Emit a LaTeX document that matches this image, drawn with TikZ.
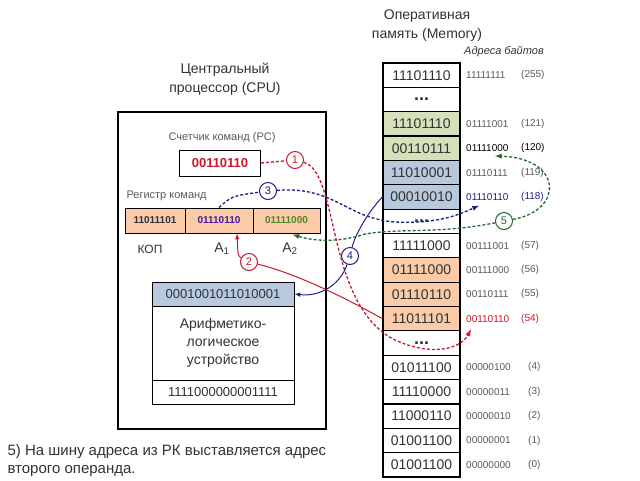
\documentclass[tikz,border=0pt]{standalone}
\usepackage{fontspec}
\setmainfont{Liberation Sans}
\definecolor{cpured}{RGB}{200,25,45}
\definecolor{cpublue}{RGB}{30,30,135}
\definecolor{cpugreen}{RGB}{35,105,45}
\definecolor{peach}{RGB}{250,203,168}
\definecolor{olive}{RGB}{214,224,186}
\definecolor{steel}{RGB}{184,201,222}
\definecolor{addr}{RGB}{90,90,90}
\definecolor{txt}{RGB}{50,50,50}
\newcommand\mdots{\fontsize{18}{18}\selectfont\textbf{...}}
\newcommand\fs[1]{\fontsize{#1}{#1}\selectfont}
\tikzset{
cell/.style={draw,line width=1.2pt,minimum width=77pt,minimum height=24.35pt,inner sep=0pt,font=\fs{14}},
reg/.style={draw,line width=1pt,fill=peach,minimum height=25pt,inner sep=0pt,font=\fs{10}\bfseries},
adr/.style={anchor=west,inner sep=1pt,font=\fs{10}},
num/.style={circle,draw=#1,text=#1,fill=white,line width=1pt,minimum size=17pt,inner sep=0pt,font=\fs{11}},
dashline/.style={dashed,dash pattern=on 3pt off 2pt,line width=1.3pt},
wire/.style={line width=1pt}
}
\begin{document}
\begin{tikzpicture}[x=1pt,y=-1pt,>=latex,text=txt]
\useasboundingbox (0,0) rectangle (640,480);
\node[align=center,font=\fs{14}] (memt) at (427,26) {Оперативная\\[5pt]память (Memory)};
\node[font=\fs{11}\itshape] (adrt) at (504,52) {Адреса байтов};
\foreach \i/\v/\c in {0/11101110/white,1/\mdots/white,2/11101110/olive,3/00110111/olive,4/11010001/steel,5/00010010/steel,6/\mdots/white,7/11111000/white,8/01111000/peach,9/01110110/peach,10/11011101/peach,11/\mdots/white,12/01011100/white,13/11110000/white,14/11000110/white,15/01001100/white,16/01001100/white}
  \node[cell,fill=\c] (m\i) at (421.5,75.2+24.35*\i) {\v};
\foreach \i/\b/\d/\c/\x in {0/11111111/255/addr/520,2/01111001/121/addr/520,3/01111000/120/black/520,4/01110111/119/addr/520,5/01110110/118/cpublue/520,7/00111001/57/addr/520,8/00111000/56/addr/520,9/00110111/55/addr/520,10/00110110/54/cpured/520,12/00000100/4/addr/527,13/00000011/3/addr/527,14/00000010/2/addr/527,15/00000001/1/addr/527,16/00000000/0/addr/527}
  {\node[adr,text=\c] (b\i) at (465,75.2+24.35*\i) {\b};
   \node[adr,text=\c] (d\i) at (\x,75.2+24.35*\i) {(\d)};}
\node[align=center,font=\fs{14}] (cput) at (225,79) {Центральный\\[5pt]процессор (CPU)};
\draw[line width=1.3pt] (118,112) rectangle (326,429);
\node[font=\fs{11},text=addr] (pct) at (222,138) {Счетчик команд (PC)};
\node[draw,line width=1pt,minimum width=81pt,minimum height=26pt,font=\fs{13}\bfseries,text=cpured] (pc) at (220,163) {00110110};
\node[font=\fs{11},text=addr,anchor=west] (irt) at (123,196) {Регистр команд};
\node[reg,minimum width=60pt] (ir1) at (155,220.5) {11011101};
\node[reg,minimum width=68pt,text=cpublue!80!magenta] (ir2) at (219,220.5) {01110110};
\node[reg,minimum width=67pt,text=cpugreen!80!yellow] (ir3) at (286.5,220.5) {01111000};
\node[font=\fs{12}] (kop) at (150,249) {КОП};
\node[font=\fs{14}] (a1) at (222,249) {A\textsubscript{1}};
\node[font=\fs{14}] (a2) at (290,249) {A\textsubscript{2}};
\node[draw,line width=1pt,fill=steel,minimum width=142pt,minimum height=24pt,inner sep=0pt,font=\fs{13}] (alu1) at (223,294) {0001001011010001};
\node[draw,line width=1pt,minimum width=142pt,minimum height=74pt,align=center,font=\fs{14}] (alu2) at (223,343) {Арифметико-\\[4pt]логическое\\[4pt]устройство};
\node[draw,line width=1pt,minimum width=142pt,minimum height=24pt,inner sep=0pt,font=\fs{13}] (alu3) at (223,392) {1111000000001111};
\node[num=cpured] (c1) at (295,160) {1};
\node[num=cpured] (c2) at (249,262) {2};
\node[num=cpublue] (c3) at (268,191) {3};
\node[num=cpublue] (c4) at (350,256) {4};
\node[num=cpugreen] (c5) at (504,221) {5};
\draw[dashline,cpured] (pc.east) -- (c1);
\draw[dashline,cpured,->] (c1) .. controls (340,172) and (325,305) .. (395,340) .. controls (430,356) and (460,350) .. ([xshift=6pt,yshift=-6pt]b10.south west);
\draw[wire,cpured] (m10.west) .. controls (335,292) and (290,272) .. (c2);
\draw[wire,cpured,->] (c2) .. controls (238,256) .. ([xshift=18pt]ir2.south);
\draw[dashline,cpublue] (ir2.north) .. controls (232,196) .. (c3);
\draw[dashline,cpublue,->] (c3) .. controls (335,186) and (345,218) .. (395,222) .. controls (440,224) and (460,214) .. ([xshift=14pt,yshift=-4pt]b5.south west);
\draw[wire,cpublue] (m5.west) .. controls (368,212) and (355,235) .. (c4);
\draw[wire,cpublue,->] (c4) .. controls (340,285) and (320,297) .. (alu1.east);
\draw[dashline,cpugreen,->] (c5) .. controls (440,234) and (400,228) .. (365,234) .. controls (335,244) and (310,240) .. ([xshift=6pt,yshift=-1pt]ir3.south);
\draw[dashline,cpugreen,->] (c5) .. controls (565,210) and (562,158) .. ([xshift=30pt,yshift=-3pt]b3.south west);
\node[anchor=north west,align=left,font=\fontsize{15}{18}\selectfont] (note) at (4,441) {5) На шину адреса из РК выставляется адрес\\второго операнда.};
\end{tikzpicture}
\end{document}
